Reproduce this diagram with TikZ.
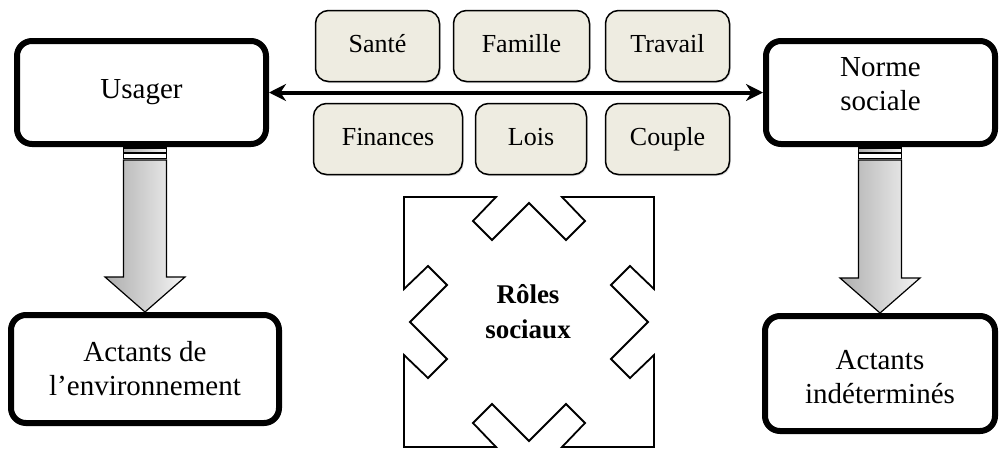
\documentclass[tikz,border=0pt]{standalone}
\usepackage{fontspec}
\setmainfont{Liberation Serif}
\usepackage{tikz}
\usetikzlibrary{calc,positioning,arrows.meta,shadows}

\definecolor{fondbeige}{HTML}{EEECE1}
\newcommand\grandfont{\fontsize{29}{34}\selectfont}
\newcommand\petitfont{\fontsize{26}{30}\selectfont}
\newcommand\rolefont{\fontsize{27}{35}\selectfont\bfseries}

\tikzset{
  acteur/.style={draw, fill=white, line width=6pt, rounded corners=15pt, align=center, inner sep=0pt, font=\grandfont},
  theme/.style={draw, line width=1.5pt, rounded corners=13pt, fill=fondbeige, inner sep=0pt, minimum height=71pt, minimum width=124pt, text height=18pt, text depth=6pt, font=\petitfont, drop shadow={shadow xshift=1.2pt, shadow yshift=-1.5pt, opacity=0.25}},
  grossefleche/.style={draw, line width=1.2pt, left color=black!32, right color=black!4},
  bande/.style={draw, line width=0.8pt, fill=white},
  liaison/.style={line width=4pt, {Stealth[length=17pt,width=17pt]}-{Stealth[length=17pt,width=17pt]}},
}

\begin{document}
\begin{tikzpicture}[x=1pt, y=-1pt]
  \useasboundingbox (0,0) rectangle (1001,451);

  % les deux acteurs du haut
  \node[acteur, minimum width=249pt, minimum height=103pt] (usager) at (141.5,92.5) {Usager};
  \node[acteur, minimum width=229pt, minimum height=103pt] (norme) at (880.5,92.5) {\raisebox{0pt}[0pt][0pt]{\begin{tabular}{@{}c@{}}Norme\\sociale\end{tabular}}};

  % les actants du bas
  \node[acteur, minimum width=268pt, minimum height=108pt] (envir) at (145,369) {Actants de\\l'environnement};
  \node[acteur, minimum width=230pt, minimum height=115pt] (indet) at (880,373.5) {\raisebox{-12pt}[0pt][0pt]{\begin{tabular}{@{}c@{}}Actants\\indéterminés\end{tabular}}};

  % les domaines
  \node[theme] (sante) at (377.5,46) {Santé};
  \node[theme, minimum width=136pt] (famille) at (521.5,46) {Famille};
  \node[theme] (travail) at (667.5,46) {Travail};
  \node[theme, minimum width=149pt] (finances) at (388,139) {Finances};
  \node[theme, minimum width=111pt] (lois) at (531,139) {Lois};
  \node[theme] (couple) at (667.5,139) {Couple};

  \draw[liaison] (usager) -- (norme);

  % grosses fleches vers le bas
  \foreach \haut/\bas in {usager/envir, norme/indet}{
    \coordinate (b) at (\bas.north |- \haut.south);
    \coordinate (t) at (\bas.north);
    \draw[grossefleche] ($(b)+(-21.5,1)$) rectangle ($(b)+(21.5,6)$);
    \draw[bande] ($(b)+(-21.5,6)$) rectangle ($(b)+(21.5,11)$);
    \draw[grossefleche] ($(b)+(-21.5,13)$) -- ($(t)+(-21.5,-35)$) -- ($(t)+(-40,-35)$)
      -- (t) -- ($(t)+(40,-35)$) -- ($(t)+(21.5,-35)$) -- ($(b)+(21.5,13)$) -- cycle;
  }

  % le cadre des roles
  \begin{scope}[shift={(529,322)}]
    \draw[line width=1.8pt, line join=miter]
      (-125,-125) -- (-33,-125) -- (-56,-101) -- (-37,-82) -- (0,-119) -- (37,-82) -- (56,-101) -- (33,-125)
      -- (125,-125) -- (125,-33) -- (101,-56) -- (82,-37) -- (119,0) -- (82,37) -- (101,56) -- (125,33)
      -- (125,125) -- (33,125) -- (56,101) -- (37,82) -- (0,119) -- (-37,82) -- (-56,101) -- (-33,125)
      -- (-125,125) -- (-125,33) -- (-101,56) -- (-82,37) -- (-119,0) -- (-82,-37) -- (-101,-56) -- (-125,-33)
      -- cycle;
  \end{scope}
  \node[font=\rolefont, align=center] (roles) at (528,312) {Rôles\\sociaux};
\end{tikzpicture}
\end{document}
